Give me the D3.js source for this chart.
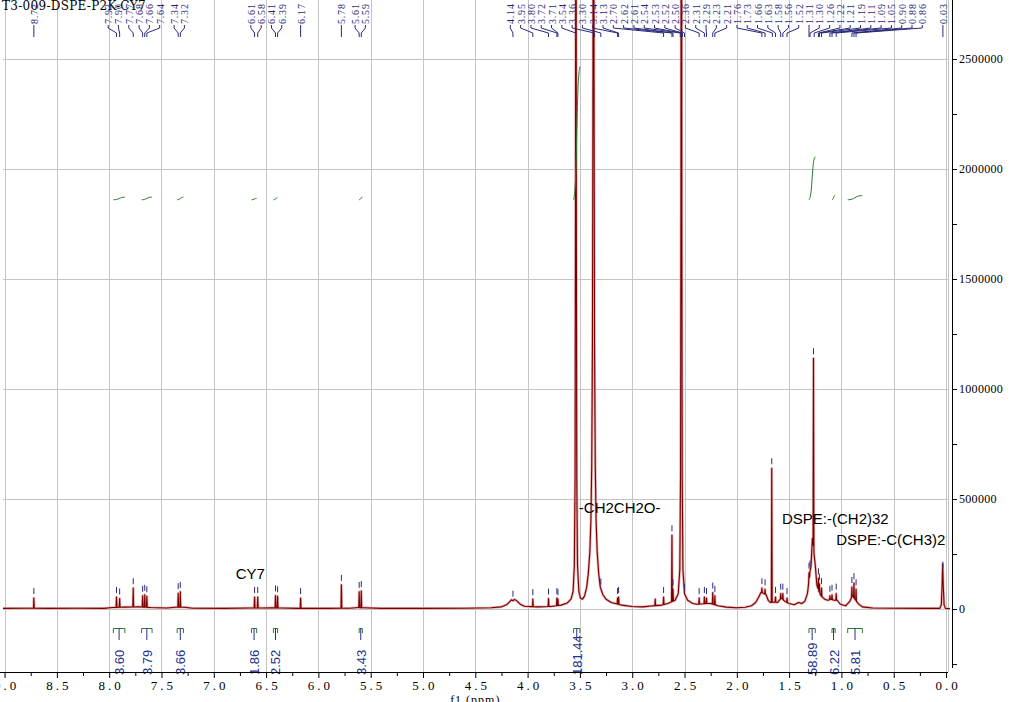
<!DOCTYPE html>
<html><head><meta charset="utf-8">
<script src="https://cdn.jsdelivr.net/npm/d3@7"></script>
<style>body{margin:0;background:#fff}svg{display:block}</style>
</head><body>
<svg id="c" width="1011" height="702"></svg>
<script>
// ---------------- DATA ----------------
const title = "T3-009-DSPE-P2K-CY7";
const xTicks = [9.0, 8.5, 8.0, 7.5, 7.0, 6.5, 6.0, 5.5, 5.0, 4.5, 4.0, 3.5, 3.0, 2.5, 2.0, 1.5, 1.0, 0.5, 0.0];
const xMinorTicks = [8.75, 8.25, 7.75, 7.25, 6.75, 6.25, 5.75, 5.25, 4.75, 4.25, 3.75, 3.25, 2.75, 2.25, 1.75, 1.25, 0.75, 0.25];
const yTicks = [0, 500000, 1000000, 1500000, 2000000, 2500000];
const yMinorTicks = [-250000, 250000, 750000, 1250000, 1750000, 2250000];
const xAxisTitle = "f1 (ppm)";

// broad envelope of the spectrum [ppm, intensity]
const envelope = [
[9.02,3000],[8.80,4000],[8.60,3000],[8.30,4000],[8.05,3000],[7.97,7000],[7.85,9000],[7.72,10000],[7.60,7000],[7.45,5000],[7.37,8000],[7.28,8000],[7.20,4000],[6.90,3000],[6.66,5000],[6.54,5000],[6.45,6000],[6.35,5000],[6.20,3000],[5.90,3000],[5.70,4000],[5.62,7000],[5.56,6000],[5.40,3000],[5.00,3000],[4.60,4000],[4.35,6000],[4.25,10000],[4.20,20000],[4.17,34000],[4.155,42000],[4.14,38000],[4.125,44000],[4.10,36000],[4.07,22000],[4.03,13000],[3.90,10000],[3.78,12000],[3.68,18000],[3.62,28000],[3.585,45000],[3.565,80000],[3.553,200000],[3.546,600000],[3.542,1800000],[3.538,5000000],[3.534,1800000],[3.530,600000],[3.523,200000],[3.51,80000],[3.495,50000],[3.475,45000],[3.455,60000],[3.435,100000],[3.42,160000],[3.405,260000],[3.395,400000],[3.387,650000],[3.380,1200000],[3.375,2400000],[3.370,5000000],[3.365,2400000],[3.360,1200000],[3.353,650000],[3.345,400000],[3.335,260000],[3.32,160000],[3.305,100000],[3.28,65000],[3.25,45000],[3.20,30000],[3.10,18000],[3.00,12000],[2.90,10000],[2.82,14000],[2.72,18000],[2.66,25000],[2.59,40000],[2.56,70000],[2.545,180000],[2.538,600000],[2.534,1800000],[2.530,5000000],[2.526,1800000],[2.522,600000],[2.515,180000],[2.50,70000],[2.47,40000],[2.42,25000],[2.38,22000],[2.30,25000],[2.25,25000],[2.18,15000],[2.10,9000],[2.00,6000],[1.92,8000],[1.86,15000],[1.82,30000],[1.79,55000],[1.77,75000],[1.745,72000],[1.72,65000],[1.70,40000],[1.68,30000],[1.64,32000],[1.61,30000],[1.575,50000],[1.54,35000],[1.50,25000],[1.45,20000],[1.41,30000],[1.38,25000],[1.35,35000],[1.325,70000],[1.315,110000],[1.29,200000],[1.278,320000],[1.25,200000],[1.235,110000],[1.215,80000],[1.195,60000],[1.16,45000],[1.13,40000],[1.10,45000],[1.07,40000],[1.04,40000],[1.01,22000],[0.96,15000],[0.92,35000],[0.895,60000],[0.84,25000],[0.80,10000],[0.70,5000],[0.50,4000],[0.20,3000],[0.06,3000],[0.045,20000],[0.038,100000],[0.032,205000],[0.026,100000],[0.018,18000],[0.005,3000],[-0.04,2000]
];

// sharp lines [ppm, intensity]
const spikes = [
[8.72,50000],[7.93,55000],[7.90,48000],[7.77,95000],[7.68,60000],[7.66,65000],[7.64,58000],[7.34,72000],[7.32,78000],[6.61,55000],[6.58,55000],[6.41,62000],[6.39,58000],[6.17,50000],[5.78,110000],[5.61,78000],[5.59,82000],[3.95,45000],[3.80,48000],[3.72,50000],[3.71,45000],[3.14,50000],[3.13,55000],[2.78,45000],[2.70,55000],[2.62,335000],[2.61,90000],[2.45,35000],[2.36,50000],[2.31,55000],[2.29,50000],[2.23,75000],[2.21,60000],[1.76,95000],[1.73,90000],[1.666,640000],[1.63,55000],[1.58,70000],[1.56,70000],[1.52,50000],[1.31,165000],[1.30,175000],[1.267,1140000],[1.22,140000],[1.21,115000],[1.19,95000],[1.11,60000],[1.09,65000],[1.05,70000],[0.90,100000],[0.88,118000],[0.86,90000]
];

const peakLabels = [8.72,7.93,7.90,7.77,7.68,7.66,7.64,7.34,7.32,6.61,6.58,6.41,6.39,6.17,5.78,5.61,5.59,4.14,3.95,3.80,3.72,3.71,3.54,3.36,3.30,3.14,3.13,2.70,2.62,2.61,2.54,2.53,2.52,2.50,2.36,2.31,2.29,2.23,2.21,1.76,1.73,1.66,1.63,1.58,1.56,1.52,1.31,1.30,1.26,1.22,1.21,1.19,1.11,1.09,1.05,0.90,0.88,0.86,0.03];

const integralRanges = [[7.96,7.85],[7.69,7.59],[7.35,7.29],[6.64,6.59],[6.43,6.39],[5.61,5.58],[3.56,3.50],[1.31,1.25],[1.09,1.06],[0.94,0.80]];
const integralValues = [3.60, 3.79, 3.66, 1.86, 2.52, 3.43, 181.44, 58.89, 6.22, 5.81];

const annotationTexts = ["CY7", "-CH2CH2O-", "DSPE:-(CH2)32", "DSPE:-C(CH3)2"];

// ---------------- LAYOUT ----------------
const annotationAnchors = [[6.79,136000],[3.51,436000],[1.568,386000],[1.05,291000]];
const integralBase = 1860000, integralScale = 3332;
const labelSpacing = 10.3;
const C_SPEC = "#7a0000", C_HALO = "#e6b0b0", C_GRID = "#c4c4c4", C_LAB = "#2a2a7c", C_INT = "#2b7a2b", C_INTLAB = "#22308e";

const svg = d3.select("#c");
const x = d3.scaleLinear().domain([9.015, -0.038]).range([3, 950]);
const y = d3.scaleLinear().domain([-286000, 2768000]).range([672, 0]);

svg.append("defs").append("clipPath").attr("id","plot")
  .append("rect").attr("x",3).attr("y",0).attr("width",947).attr("height",672);

// grid
const grid = svg.append("g").attr("stroke", C_GRID).attr("stroke-width", 1);
xTicks.forEach(t => {
  const px = Math.round(x(t)) + 0.5;
  grid.append("line").attr("x1",px).attr("x2",px).attr("y1",0).attr("y2",672);
});
grid.append("line").attr("x1",948.5).attr("x2",948.5).attr("y1",0).attr("y2",672);
yTicks.forEach(t => {
  const py = Math.round(y(t)) + 0.5;
  grid.append("line").attr("x1",3).attr("x2",948).attr("y1",py).attr("y2",py);
});

// title
svg.append("text").attr("x",2).attr("y",10).attr("font-family","DejaVu Serif").attr("font-size",12)
  .attr("letter-spacing",0.3).attr("fill","#000").text(title);

// build spectrum
const envSorted = envelope.slice().sort((a,b)=>b[0]-a[0]);
function envAt(p){
  for (let i=0;i<envSorted.length-1;i++){
    const a=envSorted[i], b=envSorted[i+1];
    if (p<=a[0] && p>=b[0]) { const t=(a[0]-p)/(a[0]-b[0]); return a[1]+(b[1]-a[1])*t; }
  }
  return 0;
}
const hw = 0.004;
let pts = envSorted.filter(e => !spikes.some(s => Math.abs(s[0]-e[0]) < hw+0.0005));
spikes.forEach(s => {
  pts.push([s[0]+hw, envAt(s[0]+hw)], [s[0], s[1]], [s[0]-hw, envAt(s[0]-hw)]);
});
pts.sort((a,b)=>b[0]-a[0]);

const line = d3.line().x(d=>x(d[0])).y(d=>y(d[1]));
const gSpec = svg.append("g").attr("clip-path","url(#plot)");
gSpec.append("path").datum(pts).attr("d",line).attr("fill","none").attr("stroke",C_HALO).attr("stroke-width",2.6).attr("stroke-linejoin","round");
gSpec.append("path").datum(pts).attr("d",line).attr("fill","none").attr("stroke",C_SPEC).attr("stroke-width",1.1).attr("stroke-linejoin","round");

// integral curves
const icurve = d3.line().curve(d3.curveBasis).x(d=>x(d[0])).y(d=>y(d[1]));
integralRanges.forEach((r,i) => {
  const v = integralValues[i]*integralScale, a=r[0], b=r[1];
  const p = [[a,integralBase],[a-(a-b)*0.3,integralBase+0.08*v],[(a+b)/2,integralBase+0.5*v],[b+(a-b)*0.3,integralBase+0.92*v],[b,integralBase+v]];
  gSpec.append("path").datum(p).attr("d",icurve).attr("fill","none").attr("stroke",C_INT).attr("stroke-width",1);
});

// integral brackets and labels
const gInt = svg.append("g");
integralRanges.forEach((r,i) => {
  const x1 = x(r[0]), x2 = x(r[1]), cx = (x1+x2)/2;
  gInt.append("path").attr("d",`M${x1},633V628.5H${x2}V633`).attr("fill","none").attr("stroke",C_INT).attr("stroke-width",1);
  gInt.append("line").attr("x1",cx).attr("x2",cx).attr("y1",628.5).attr("y2",640).attr("stroke",C_INTLAB).attr("stroke-width",1);
  gInt.append("text").attr("transform",`translate(${cx+0.5},675) rotate(-90)`)
    .attr("font-family","Liberation Sans").attr("font-size",13).attr("fill",C_INTLAB)
    .attr("dominant-baseline","central").attr("text-anchor","start").text(integralValues[i].toFixed(2));
});

// peak label layout
const lx = peakLabels.map(p => x(p));
let clusters = lx.map((v,i)=>({i0:i,n:1,sum:v}));
const xMinL = 6, xMaxL = 944;
const centerOf = c => { const half=(c.n-1)*labelSpacing/2; return Math.min(Math.max(c.sum/c.n, xMinL+half), xMaxL-half); };
let merged = true;
while (merged) {
  merged = false;
  for (let k=0;k<clusters.length-1;k++){
    const A=clusters[k], B=clusters[k+1];
    const aEnd = centerOf(A)+(A.n-1)*labelSpacing/2;
    const bStart = centerOf(B)-(B.n-1)*labelSpacing/2;
    if (bStart - aEnd < labelSpacing) { A.n+=B.n; A.sum+=B.sum; clusters.splice(k+1,1); merged=true; break; }
  }
}
const labX = new Array(peakLabels.length);
clusters.forEach(c => { const c0 = centerOf(c)-(c.n-1)*labelSpacing/2; for (let j=0;j<c.n;j++) labX[c.i0+j]=c0+j*labelSpacing; });

const gLab = svg.append("g");
peakLabels.forEach((p,i) => {
  const px = x(p), L = labX[i];
  gLab.append("text").attr("transform",`translate(${L+0.5},24) rotate(-90)`)
    .attr("font-family","Liberation Serif").attr("font-size",10).attr("letter-spacing",0.8)
    .attr("fill",C_LAB).attr("dominant-baseline","central").text(p.toFixed(2));
  gLab.append("path").attr("d",`M${L},25V28L${px},33V37`).attr("fill","none").attr("stroke",C_LAB).attr("stroke-width",1);
  const sp = spikes.find(s => Math.abs(s[0]-p) < 0.008);
  const h = sp ? sp[1] : envAt(p);
  const mx = sp ? x(sp[0]) : px;
  if (h < 2500000 && (sp || h < 200000)) {
    gLab.append("line").attr("x1",mx).attr("x2",mx).attr("y1",y(h)-4).attr("y2",y(h)-10).attr("stroke",C_LAB).attr("stroke-width",1);
  }
});

// annotations
annotationTexts.forEach((t,i) => {
  const a = annotationAnchors[i];
  svg.append("text").attr("x",x(a[0])).attr("y",y(a[1])).attr("font-family","Liberation Sans")
    .attr("font-size",15).attr("fill","#000").text(t);
});

// bottom axis
const fmt1 = d3.format(".1f");
const gx = svg.append("g").attr("transform","translate(0,672)");
gx.call(d3.axisBottom(x).tickValues(xTicks).tickSize(6).tickPadding(3).tickFormat(fmt1));
gx.select(".domain").remove();
gx.selectAll("text").attr("font-family","Liberation Serif").attr("font-size",13).attr("letter-spacing",3).attr("fill","#000").attr("dx",1.5);
const gxm = svg.append("g").attr("transform","translate(0,672)");
gxm.call(d3.axisBottom(x).tickValues(xMinorTicks).tickSize(4).tickFormat(""));
gxm.select(".domain").remove();
svg.append("line").attr("x1",0).attr("x2",948).attr("y1",672.5).attr("y2",672.5).attr("stroke","#000");
svg.append("text").attr("x",x(4.5)).attr("y",704).attr("text-anchor","middle")
  .attr("font-family","Liberation Serif").attr("font-size",12).attr("letter-spacing",1).text(xAxisTitle);

// right axis
const gy = svg.append("g").attr("transform","translate(952,0)");
gy.call(d3.axisRight(y).tickValues(yTicks).tickSize(5).tickPadding(2).tickFormat(d3.format("d")));
gy.select(".domain").remove();
gy.selectAll("text").attr("font-family","Liberation Serif").attr("font-size",12).attr("letter-spacing",0.3).attr("fill","#000");
const gym = svg.append("g").attr("transform","translate(952,0)");
gym.call(d3.axisRight(y).tickValues(yMinorTicks).tickSize(5).tickFormat(""));
gym.select(".domain").remove();
svg.append("line").attr("x1",952.5).attr("x2",952.5).attr("y1",0).attr("y2",668).attr("stroke","#000");
</script>
</body></html>
